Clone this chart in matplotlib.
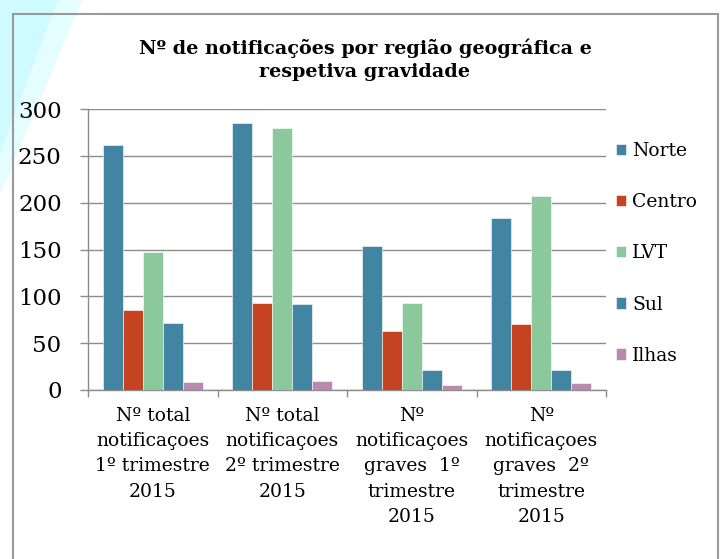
import numpy as np
import matplotlib
matplotlib.use("Agg")
import matplotlib.pyplot as plt
from matplotlib.patches import Polygon, Rectangle

# data
categorias = ["Nº total\nnotificaçoes\n1º trimestre\n2015",
              "Nº total\nnotificaçoes\n2º trimestre\n2015",
              "Nº\nnotificaçoes\ngraves  1º\ntrimestre\n2015",
              "Nº\nnotificaçoes\ngraves  2º\ntrimestre\n2015"]
regioes = ["Norte", "Centro", "LVT", "Sul", "Ilhas"]
norte = [262, 285, 154, 184]
centro = [85, 93, 63, 70]
lvt = [147, 280, 93, 207]
sul = [71, 92, 21, 21]
ilhas = [9, 10, 5, 7]
cores = ["#4285a3", "#c64322", "#8bc99c", "#4285a3", "#ba89ae"]

W, H = 722, 559
plt.rcParams['font.family'] = ['DejaVu Serif']

fig = plt.figure(figsize=(W / 100, H / 100), dpi=100)

# background decoration (cyan slide shapes) + chart frame
def px(x, y):
    return (x / W, 1 - y / H)

fig.patches.append(Polygon([px(58, 0), px(82, 0), px(0, 195), px(0, 153)],
                           closed=True, transform=fig.transFigure,
                           facecolor="#e4fdff", edgecolor="none", zorder=-3))
fig.patches.append(Polygon([px(0, 0), px(58, 0), px(0, 153)],
                           closed=True, transform=fig.transFigure,
                           facecolor="#cdfbff", edgecolor="none", zorder=-3))
fig.patches.append(Rectangle(px(13, 570), (718 - 13) / W, (570 - 14) / H,
                             transform=fig.transFigure, fill=False,
                             edgecolor="#9a9a9a", linewidth=1.5, zorder=-2))

ax = fig.add_axes([88 / W, 1 - 390 / H, (606 - 88) / W, (390 - 109) / H])
ax.patch.set_alpha(0)

x = np.arange(len(categorias))
w = 0.1544
series = [norte, centro, lvt, sul, ilhas]
for i, (nome, vals) in enumerate(zip(regioes, series)):
    ax.bar(x + (i - 2) * w, vals, w, color=cores[i], label=nome,
           edgecolor="white", linewidth=0.4, zorder=3)

ax.set_xlim(-0.5, len(categorias) - 0.5)
ax.set_ylim(0, 300)
ax.set_yticks(range(0, 301, 50))
ax.grid(axis="y", color="#8c8c8c", linewidth=1, zorder=0)
ax.set_axisbelow(True)

for s in ["top", "right"]:
    ax.spines[s].set_visible(False)
for s in ["left", "bottom"]:
    ax.spines[s].set_color("#8c8c8c")
    ax.spines[s].set_linewidth(1)

ax.tick_params(axis="y", length=6, width=1, color="#8c8c8c", pad=13,
               labelsize=16.5, labelcolor="black")
ax.set_xticks(x)
ax.set_xticklabels(categorias, fontsize=13.5, linespacing=1.52)
ax.set_xticks(np.arange(-0.5, len(categorias)), minor=True)
ax.tick_params(axis="x", which="major", length=0, pad=12)
ax.tick_params(axis="x", which="minor", length=5, width=1, color="#8c8c8c")

fig.text(365 / W, 1 - 60 / H,
         "Nº de notificações por região geográfica e\nrespetiva gravidade",
         ha="center", va="center", fontsize=13.8, fontweight="bold",
         linespacing=1.35)

fig.legend(loc="upper left", bbox_to_anchor=(616 / W, 1 - 142 / H),
           frameon=False, fontsize=13.5, handlelength=0.55, handleheight=0.55,
           handletextpad=0.3, labelspacing=1.77, borderaxespad=0,
           borderpad=0)

fig.savefig("out.png", dpi=100)
